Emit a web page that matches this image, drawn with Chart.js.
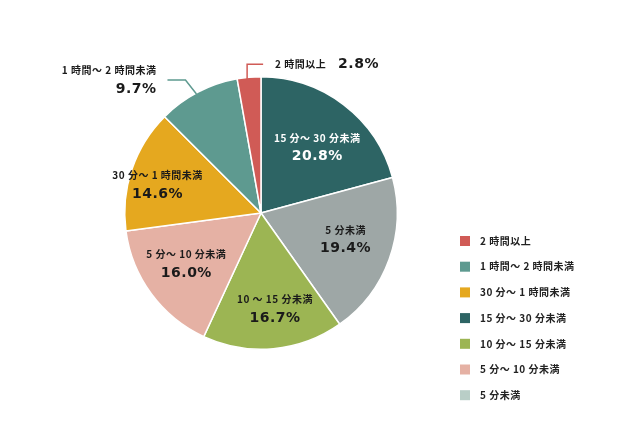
<!DOCTYPE html>
<html><head><meta charset="utf-8">
<script src="https://cdn.jsdelivr.net/npm/chart.js@4"></script>
<style>html,body{margin:0;padding:0;background:#fff}#wrap{width:640px;height:427px}</style>
</head><body><div id="wrap"><canvas id="c" width="640" height="427"></canvas></div>
<script>
// Pie slices, clockwise from 12 o'clock
const categories = ["15 分～ 30 分未満","5 分未満","10 ～ 15 分未満","5 分～ 10 分未満","30 分～ 1 時間未満","1 時間～ 2 時間未満","2 時間以上"];
const values = [20.8, 19.4, 16.7, 16.0, 14.6, 9.7, 2.8];
const sliceColors = ["#2d6464","#9ea7a6","#9cb553","#e5b1a4","#e5a81f","#5e9a90","#d05b56"];
const labelColors = ["#ffffff","#1a1a1a","#1a1a1a","#1a1a1a","#1a1a1a","#1a1a1a","#1a1a1a"];
// Legend (its own order)
const legendLabels = ["2 時間以上","1 時間～ 2 時間未満","30 分～ 1 時間未満","15 分～ 30 分未満","10 分～ 15 分未満","5 分～ 10 分未満","5 分未満"];
const legendColors = ["#d05b56","#5e9a90","#e5a81f","#2d6464","#9cb553","#e5b1a4","#b9cec7"];

const FONT = '"Noto Sans CJK JP", "Noto Sans", sans-serif';
const NUMFONT = '"DejaVu Sans", "Noto Sans", sans-serif';
// label placement inside slices: fraction of radius and angle tweak (deg); null = outside label
const radialFrac = [0.637, 0.649, 0.708, 0.662, 0.788, null, null];
const angleTweak = [2.9, -2.8, -3.1, 2.2, -3.1, 0, 0];

const labelPlugin = {
  id: 'labels',
  afterDraw(chart) {
    const ctx = chart.ctx;
    const meta = chart.getDatasetMeta(0);
    ctx.save();
    meta.data.forEach((arc, i) => {
      const p = arc.getProps(['x','y','startAngle','endAngle','outerRadius'], true);
      const mid = (p.startAngle + p.endAngle) / 2 + angleTweak[i] * Math.PI / 180;
      const pct = values[i].toFixed(1) + '%';
      if (radialFrac[i] != null) {
        const r = p.outerRadius * radialFrac[i];
        const cx = p.x + Math.cos(mid) * r, cy = p.y + Math.sin(mid) * r;
        ctx.fillStyle = labelColors[i];
        ctx.textAlign = 'center'; ctx.textBaseline = 'middle';
        ctx.font = 'bold 10px ' + FONT;
        ctx.letterSpacing = '0.5px';
        ctx.fillText(categories[i], cx, cy - 9);
        ctx.font = 'bold 14px ' + NUMFONT;
        ctx.letterSpacing = '0.5px';
        ctx.fillText(pct, cx, cy + 10);
      } else {
        const ex = p.x + Math.cos(mid) * (p.outerRadius - 1);
        const ey = p.y + Math.sin(mid) * (p.outerRadius - 1);
        ctx.strokeStyle = sliceColors[i]; ctx.lineWidth = 1.5;
        ctx.beginPath();
        if (values[i] > 5) {
          ctx.moveTo(ex - 2, ey + 1); ctx.lineTo(ex - 13, ey - 13); ctx.lineTo(ex - 31, ey - 13);
          ctx.stroke();
          ctx.fillStyle = '#1a1a1a';
          ctx.textAlign = 'right'; ctx.textBaseline = 'middle';
          ctx.font = 'bold 10px ' + FONT; ctx.letterSpacing = '0.5px';
          ctx.fillText(categories[i], ex - 42, ey - 23);
          ctx.font = 'bold 14px ' + NUMFONT; ctx.letterSpacing = '0.5px';
          ctx.fillText(pct, ex - 42, ey - 4);
        } else {
          ctx.moveTo(ex - 2, ey + 1); ctx.lineTo(ex - 2, ey - 14); ctx.lineTo(ex + 14, ey - 14);
          ctx.stroke();
          ctx.fillStyle = '#1a1a1a';
          ctx.textAlign = 'left'; ctx.textBaseline = 'middle';
          ctx.font = 'bold 10px ' + FONT; ctx.letterSpacing = '0.5px';
          ctx.fillText(categories[i], ex + 26, ey - 14);
          ctx.font = 'bold 14px ' + NUMFONT; ctx.letterSpacing = '0.5px';
          ctx.fillText(pct, ex + 89, ey - 14);
        }
      }
    });
    // legend
    legendLabels.forEach((t, i) => {
      const y = 241 + i * 25.7;
      ctx.fillStyle = legendColors[i];
      ctx.fillRect(460, y - 5, 10, 10);
      ctx.fillStyle = '#222';
      ctx.textAlign = 'left'; ctx.textBaseline = 'middle';
      ctx.font = 'bold 10px ' + FONT; ctx.letterSpacing = '0.5px';
      ctx.fillText(t, 480, y);
    });
    ctx.restore();
  }
};

new Chart(document.getElementById('c'), {
  type: 'pie',
  data: { labels: categories, datasets: [{ data: values, backgroundColor: sliceColors, borderColor: '#ffffff', borderWidth: 1.5 }] },
  options: {
    responsive: false, animation: false,
    layout: { padding: { top: 76, bottom: 77, left: 124, right: 242 } },
    plugins: { legend: { display: false }, tooltip: { enabled: false } }
  },
  plugins: [labelPlugin]
});
</script></body></html>
